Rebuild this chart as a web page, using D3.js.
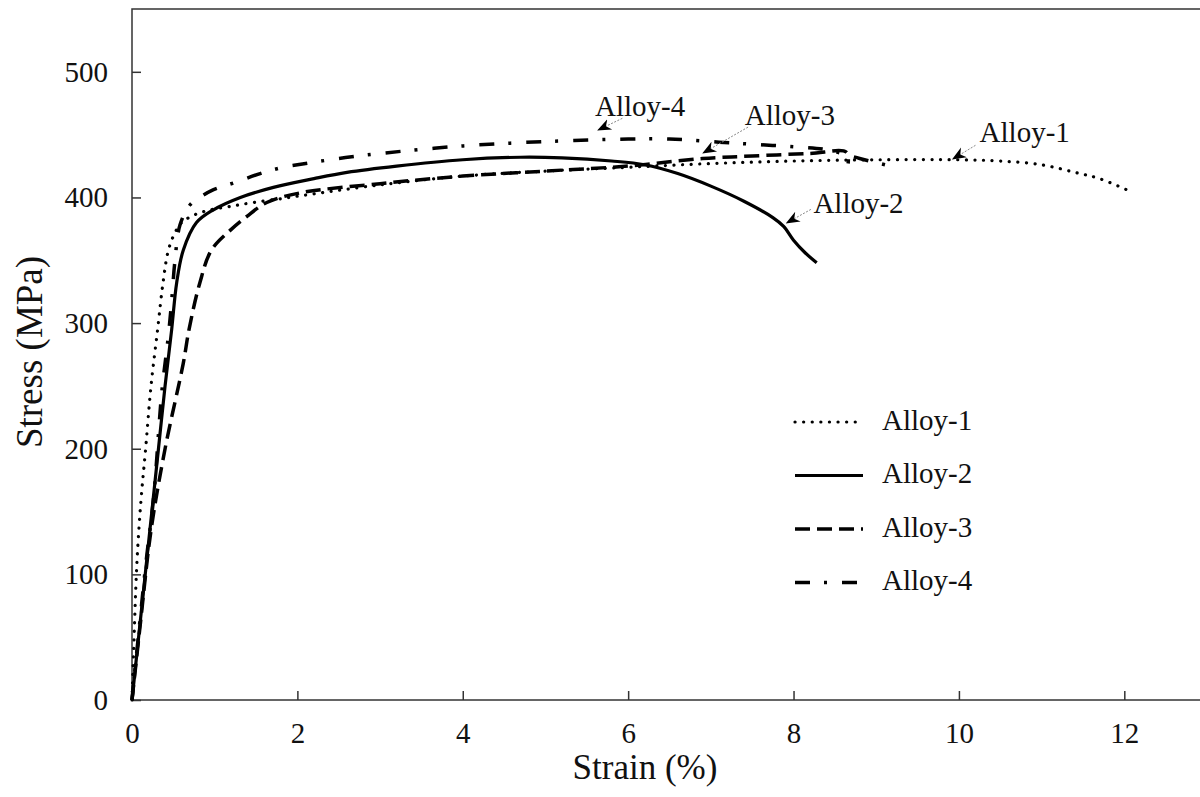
<!DOCTYPE html>
<html>
<head>
<meta charset="utf-8">
<script src="https://cdn.jsdelivr.net/npm/d3@7"></script>
<style>
  body { margin: 0; background: #fff; }
  svg { display: block; font-family: "Liberation Serif", "Times New Roman", serif; }
  .line { fill: none; stroke: #000; }
  .axis path, .axis line { stroke: #333; stroke-width: 1.5; }
  .axis text { font-size: 29px; fill: #111; font-family: "Liberation Serif", serif; }
</style>
</head>
<body>
<div id="chart"></div>
<script>
// strain (%) / stress (MPa)
const alloy1 = [[0,0],[0.02,40],[0.06,110],[0.11,160],[0.165,200],[0.23,250],[0.31,295],[0.375,332],[0.44,358],[0.52,372],
  [0.6,380],[0.75,386],[0.94,390],[1.2,393],[1.47,396],[1.8,399],[2.0,401],[3,410],[4,417],[5,421],[6,424],[7,427],
  [8,429],[9,430],[10,430],[10.5,429],[11,426],[11.4,420],[11.7,415],[12.1,404]];
const alloy2 = [[0,0],[0.08,50],[0.16,100],[0.24,150],[0.32,200],[0.4,250],[0.48,295],[0.54,332],[0.62,358],[0.78,380],
  [0.98,390],[1.31,400],[1.71,408],[2.2,415],[2.6,420],[3.2,425],[4,430],[4.7,432],[5.2,431.5],[5.8,429],[6.2,426],
  [6.6,419],[7.0,409],[7.4,397],[7.75,384],[7.88,377],[8.0,366],[8.14,356],[8.28,348]];
const alloy3 = [[0,0],[0.1,60],[0.23,135],[0.4,200],[0.62,268],[0.69,295],[0.82,332],[0.96,358],[1.19,374],[1.39,385],
  [1.63,396],[2.03,403.6],[3,411],[4,417],[5,421],[6,425],[6.9,431],[7.5,433],[8.2,435],[8.64,436],[8.66,427]];
const alloy4 = [[0,0],[0.17,110],[0.26,160],[0.36,245],[0.44,290],[0.48,318],[0.52,350],[0.58,378],[0.7,394],[0.82,400],
  [0.98,406],[1.25,412],[1.55,419],[1.83,424],[2.1,427],[2.5,431],[3,435],[4,441],[5,444.5],[6,446.5],[6.5,446.5],
  [7.1,444],[7.6,442],[8.08,440],[8.4,438],[8.8,431],[9.23,424]];

const seriesNames = ['Alloy-1', 'Alloy-2', 'Alloy-3', 'Alloy-4'];
const seriesData = [alloy1, alloy2, alloy3, alloy4];
const dashes = ['0.1,8.5', null, '15,7', '15,14,3,15'];
const widths = [3.2, 3.2, 3.5, 3.5];

const xTicks = [0, 2, 4, 6, 8, 10, 12];
const yTicks = [0, 100, 200, 300, 400, 500];

// callouts: label position and arrow tip, in data units
const callouts = [
  {name: 'Alloy-1', text: [10.25, 444.3], tail: [10.2, 441.5], tip: [9.93, 430.7]},
  {name: 'Alloy-2', text: [8.24, 388], tail: [8.21, 390.5], tip: [7.92, 379.8]},
  {name: 'Alloy-3', text: [7.41, 457.8], tail: [7.45, 456], tip: [6.91, 435.5]},
  {name: 'Alloy-4', text: [5.6, 464.5], tail: [5.93, 463], tip: [5.64, 453.8]}
];

const width = 1200, height = 797;
const margin = {top: 9, right: 0, bottom: 97, left: 132};

let svg = d3.select('#chart').append('svg')
    .attr('width', width)
    .attr('height', height);

let x = d3.scaleLinear().domain([0, 13]).range([margin.left, 1207]);
let y = d3.scaleLinear().domain([0, 550]).range([height - margin.bottom, margin.top]);

svg.append('defs').append('marker')
    .attr('id', 'head')
    .attr('viewBox', '0 0 10 10')
    .attr('refX', 9).attr('refY', 5)
    .attr('markerWidth', 14).attr('markerHeight', 14)
    .attr('markerUnits', 'userSpaceOnUse')
    .attr('orient', 'auto')
    .append('path')
    .attr('d', 'M0,1 L10,5 L0,9 L3,5 Z')
    .attr('fill', '#000');

// frame
svg.append('rect')
    .attr('x', x(0)).attr('y', y(550))
    .attr('width', x(13) - x(0)).attr('height', y(0) - y(550))
    .attr('fill', 'none').attr('stroke', '#333').attr('stroke-width', 1.5);

// add the X Axis
let gx = svg.append('g')
    .attr('class', 'axis')
    .attr('transform', 'translate(0,' + y(0) + ')')
    .call(d3.axisBottom(x).tickValues(xTicks).tickSize(-9).tickPadding(22).tickFormat(d3.format('d')));
gx.select('.domain').remove();

// add the Y Axis
let gy = svg.append('g')
    .attr('class', 'axis')
    .attr('transform', 'translate(' + x(0) + ',0)')
    .call(d3.axisLeft(y).tickValues(yTicks).tickSize(-9).tickPadding(24).tickFormat(d3.format('d')));
gy.select('.domain').remove();

// curves
let stressLine = d3.line()
    .x(function(d) { return x(d[0]); })
    .y(function(d) { return y(d[1]); })
    .curve(d3.curveCatmullRom.alpha(0.5));

seriesData.forEach(function(data, i) {
    svg.append('path')
        .datum(data)
        .attr('class', 'line')
        .attr('stroke-width', widths[i])
        .attr('stroke-linecap', i === 0 ? 'round' : 'butt')
        .attr('stroke-dasharray', dashes[i])
        .attr('d', stressLine);
});

// legend
let legend = svg.append('g');
seriesNames.forEach(function(name, i) {
    let ly = 422 + i * 53.5;
    legend.append('line')
        .attr('x1', 795).attr('x2', 863)
        .attr('y1', ly).attr('y2', ly)
        .attr('stroke', '#000')
        .attr('stroke-width', widths[i])
        .attr('stroke-linecap', i === 0 ? 'round' : 'butt')
        .attr('stroke-dasharray', dashes[i]);
    legend.append('text')
        .attr('x', 882).attr('y', ly + 1)
        .attr('dominant-baseline', 'middle')
        .attr('font-size', 29)
        .attr('fill', '#111')
        .text(name);
});

// callouts
callouts.forEach(function(c) {
    svg.append('line')
        .attr('x1', x(c.tail[0])).attr('y1', y(c.tail[1]))
        .attr('x2', x(c.tip[0])).attr('y2', y(c.tip[1]))
        .attr('stroke', '#888').attr('stroke-width', 1)
        .attr('stroke-dasharray', '2,1.5')
        .attr('marker-end', 'url(#head)');
    svg.append('text')
        .attr('x', x(c.text[0])).attr('y', y(c.text[1]))
        .attr('font-size', 29)
        .attr('fill', '#111')
        .text(c.name);
});

// axis titles
svg.append('text')
    .attr('x', 645).attr('y', 779)
    .attr('text-anchor', 'middle')
    .attr('font-size', 35)
    .attr('fill', '#111')
    .text('Strain (%)');

svg.append('text')
    .attr('transform', 'translate(42,352) rotate(-90)')
    .attr('text-anchor', 'middle')
    .attr('font-size', 37)
    .attr('fill', '#111')
    .text('Stress (MPa)');
</script>
</body>
</html>
